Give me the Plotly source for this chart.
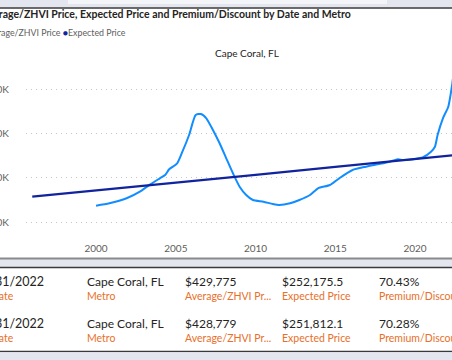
import plotly.graph_objects as go

W, H = 452, 360

# ---- data ----
zhvi_dates = ["2000-01", "2000-11", "2001-12", "2002-10", "2003-05", "2004-01", "2004-05", "2004-08",
              "2005-02", "2005-06", "2005-11", "2006-04", "2006-08", "2006-12", "2007-05", "2007-10",
              "2008-03", "2008-08", "2009-01", "2009-06", "2009-11", "2010-07", "2011-02", "2011-07",
              "2012-03", "2012-10", "2013-06", "2013-12", "2014-09", "2015-04", "2016-02", "2016-12",
              "2017-10", "2018-06", "2018-12", "2019-04", "2020-01", "2020-07", "2021-01", "2021-04",
              "2021-06", "2021-10", "2022-02", "2022-04-30", "2022-05-31", "2022-07-31"]
zhvi_values = [137500, 142900, 154300, 169100, 184000, 199300, 206800, 219600,
               233200, 259300, 297000, 342100, 344400, 334700, 308300, 278300,
               244400, 210600, 180400, 161700, 150400, 146500, 141300, 139100,
               142900, 150400, 161700, 176800, 184200, 199300, 218000, 225500,
               231600, 236800, 242200, 240600, 242900, 246700, 259300, 270600,
               297000, 334700, 360800, 409800, 428779, 429775]

exp_dates = ["1996-01", "2000-01", "2005-01", "2010-01", "2015-01", "2020-01", "2022-05-31", "2022-07-31"]
exp_values = [157800, 171500, 189000, 207000, 225000, 243000, 251812.1, 252175.5]

y_tickvals = [100000, 200000, 300000, 400000]
y_ticktext = ["100K", "200K", "300K", "400K"]
x_tickyears = ["2000", "2005", "2010", "2015", "2020"]

table_dates = ["7/31/2022", "5/31/2022"]
table_metro = ["Cape Coral, FL", "Cape Coral, FL"]
table_avg = ["$429,775", "$428,779"]
table_exp = ["$252,175.5", "$251,812.1"]
table_prem = ["70.43%", "70.28%"]
table_labels = ["Date", "Metro", "Average/ZHVI Pr...", "Expected Price", "Premium/Discount"]

title_text = "Average/ZHVI Price, Expected Price and Premium/Discount by Date and Metro"
subtitle_text = "Cape Coral, FL"

BLUE = "#118DFF"
NAVY = "#12239E"
GRAY = "#605E5C"
ORANGE = "#E8702A"
DARK = "#252423"
FONT = "Segoe UI, Lato, Noto Sans, sans-serif"


def fx(px):
    return px / W


def fy(py):
    return 1 - py / H


fig = go.Figure()
fig.add_trace(go.Scatter(x=zhvi_dates, y=zhvi_values, mode="lines", name="Average/ZHVI Price",
                         line=dict(color=BLUE, width=2, shape="spline", smoothing=0.6)))
fig.add_trace(go.Scatter(x=exp_dates, y=exp_values, mode="lines", name="Expected Price",
                         line=dict(color=NAVY, width=2.2)))

# axis mapping: plot area px x 26..452, y 65..235
fig.update_layout(
    width=W, height=H,
    margin=dict(l=0, r=0, t=0, b=0, pad=0, autoexpand=False),
    paper_bgcolor="white", plot_bgcolor="white",
    showlegend=False,
    font=dict(family=FONT, color=GRAY),
    xaxis=dict(domain=[fx(26), 1.0], range=["1995-08-11", "2022-04-27"], type="date",
               tickvals=[y + "-01-01" for y in x_tickyears], ticktext=x_tickyears,
               showgrid=False, zeroline=False, showline=False, ticks="", automargin=False,
               ticklabelstandoff=6, tickfont=dict(size=10, color=GRAY, family=FONT)),
    yaxis=dict(domain=[fy(235), fy(65)], range=[71400, 454900],
               tickvals=y_tickvals, ticktext=y_ticktext, automargin=False,
               showgrid=True, gridcolor="#C8C6C4", griddash="1px,4px", gridwidth=1,
               zeroline=False, showline=False, ticks="",
               ticklabelstandoff=16, tickfont=dict(size=10, color=GRAY, family=FONT)),
)

shapes = []
# top strip
shapes.append(dict(type="rect", xref="paper", yref="paper", x0=0, x1=1, y0=fy(7.5), y1=1,
                   fillcolor="#E3E5EF", line=dict(width=0), layer="above"))
shapes.append(dict(type="rect", xref="paper", yref="paper", x0=fx(68), x1=fx(387), y0=fy(4), y1=1,
                   fillcolor="#F4F5F9", line=dict(width=0), layer="above"))
shapes.append(dict(type="line", xref="paper", yref="paper", x0=0, x1=1, y0=fy(8), y1=fy(8),
                   line=dict(color="#3A3A3A", width=1.5), layer="above"))
# bottom bands
shapes.append(dict(type="rect", xref="paper", yref="paper", x0=0, x1=1, y0=fy(267), y1=fy(258),
                   fillcolor="#E3E5EF", line=dict(width=0), layer="above"))
shapes.append(dict(type="line", xref="paper", yref="paper", x0=0, x1=1, y0=fy(258.5), y1=fy(258.5),
                   line=dict(color="#8A8A8A", width=2), layer="above"))
shapes.append(dict(type="line", xref="paper", yref="paper", x0=0, x1=1, y0=fy(267.5), y1=fy(267.5),
                   line=dict(color="#3A3A3A", width=1.5), layer="above"))
shapes.append(dict(type="line", xref="paper", yref="paper", x0=0, x1=1, y0=fy(351.5), y1=fy(351.5),
                   line=dict(color="#3A3A3A", width=1.5), layer="above"))
shapes.append(dict(type="rect", xref="paper", yref="paper", x0=0, x1=1, y0=0, y1=fy(352.3),
                   fillcolor="#E3E5EF", line=dict(width=0), layer="above"))
fig.update_layout(shapes=shapes)

ann = []
# title (left part cut off by the crop)
ann.append(dict(text="<b>" + title_text + "</b>", x=fx(353), y=fy(14), xref="paper", yref="paper",
                xanchor="right", yanchor="middle", showarrow=False,
                font=dict(size=10.5, color=DARK, family=FONT)))
# legend
ann.append(dict(text="<span style='color:%s'>●</span> Average/ZHVI Price <span style='color:%s'>●</span>Expected Price" % (BLUE, NAVY),
                x=fx(128), y=fy(32), xref="paper", yref="paper", xanchor="right", yanchor="middle",
                showarrow=False, font=dict(size=8.8, color=GRAY, family=FONT)))
# subtitle
ann.append(dict(text=subtitle_text, x=fx(247), y=fy(53), xref="paper", yref="paper",
                xanchor="center", yanchor="middle", showarrow=False,
                font=dict(size=10, color=DARK, family=FONT)))

# table card
row_val_y = [281, 323]
row_lab_y = [296, 338]
for i in range(2):
    vy, ly = row_val_y[i], row_lab_y[i]
    ann.append(dict(text=table_dates[i], x=fx(46), y=fy(vy), xref="paper", yref="paper",
                    xanchor="right", yanchor="middle", showarrow=False,
                    font=dict(size=12.5, color=DARK, family=FONT)))
    # column label of the date column, its left part cut off by the crop
    ann.append(dict(text=table_labels[0] + " " * 0, x=fx(-11), y=fy(ly), xref="paper", yref="paper",
                    xanchor="left", yanchor="middle", showarrow=False,
                    font=dict(size=10.5, color=ORANGE, family=FONT)))
    cols = [(85, table_metro[i], table_labels[1]), (183, table_avg[i], table_labels[2]),
            (280, table_exp[i], table_labels[3]), (377, table_prem[i], table_labels[4])]
    for cx, val, lab in cols:
        ann.append(dict(text=val, x=fx(cx), y=fy(vy), xref="paper", yref="paper",
                        xanchor="left", yanchor="middle", showarrow=False,
                        font=dict(size=12, color=DARK, family=FONT)))
        ann.append(dict(text=lab, x=fx(cx), y=fy(ly), xref="paper", yref="paper",
                        xanchor="left", yanchor="middle", showarrow=False,
                        font=dict(size=10.5, color=ORANGE, family=FONT)))
fig.update_layout(annotations=ann)

fig.write_html("out.html", config={"displayModeBar": False},
               post_script="document.body.style.margin='0px';document.body.style.overflow='hidden';")
